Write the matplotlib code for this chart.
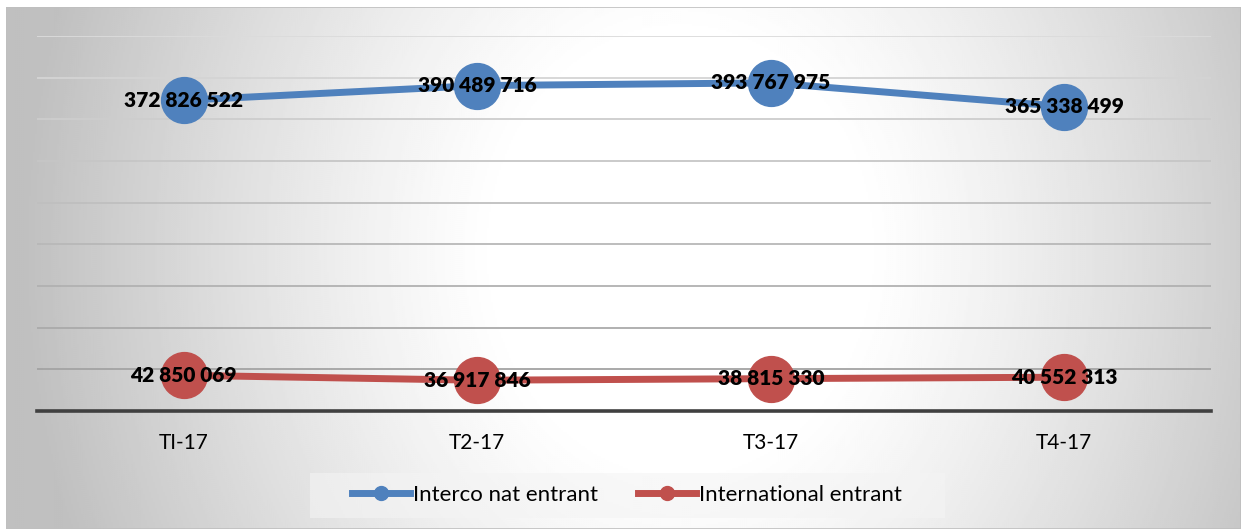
import numpy as np
import matplotlib
matplotlib.use("Agg")
import matplotlib.pyplot as plt
from matplotlib.lines import Line2D
from matplotlib.patches import Rectangle

categories = ["TI-17", "T2-17", "T3-17", "T4-17"]
interco = [372826522, 390489716, 393767975, 365338499]
international = [42850069, 36917846, 38815330, 40552313]
series_names = ["Interco nat entrant", "International entrant"]

W, H = 1241, 529
fig = plt.figure(figsize=(W / 100, H / 100), dpi=100)
fig.patch.set_facecolor("white")

# background gradient panel (pixel coordinates, y from top)
x0, y0 = 6, 7
bg = fig.add_axes([x0 / W, 0, 1 - x0 / W, (H - y0) / H])
bg.set_axis_off()
py, px = np.mgrid[y0:H:2, x0:W:2]
cxp, cyp = 680.0, 250.0
r = np.sqrt(((px - cxp) / 600.0) ** 2 + ((py - cyp) / 700.0) ** 2)
f = np.clip((r - 0.3) / 0.8, 0, 1) ** 1.2
vals = 1.0 - 0.25 * f
bg.imshow(vals, cmap="gray", vmin=0, vmax=1, aspect="auto",
          extent=[x0, W, H, y0], interpolation="bilinear")
bg.set_xlim(x0, W)
bg.set_ylim(H, y0)
bg.add_patch(Rectangle((0, 0), 1, 1, transform=bg.transAxes, fill=False,
                       edgecolor="#bfbfbf", lw=1.2))

ax = fig.add_axes([37 / W, (H - 411) / H, (1211 - 37) / W, (411 - 36) / H])
ax.patch.set_alpha(0)
x = np.arange(len(categories))
ax.set_xlim(-0.5, len(categories) - 0.5)
ax.set_ylim(0, 450e6)

grid_vals = np.arange(50e6, 451e6, 50e6)
for i, gv in enumerate(grid_vals):
    t = (gv - 50e6) / 400e6
    g = 0.64 + 0.22 * t
    ax.axhline(gv, color=(g, g, g), lw=1.3, zorder=1)
ax.axhline(0, color="#404040", lw=2.6, zorder=2, clip_on=False)

for s in ax.spines.values():
    s.set_visible(False)
ax.set_yticks([])
ax.set_xticks(x)
ax.set_xticklabels(categories, fontsize=15, family="Lato")
ax.tick_params(axis="x", length=0, pad=16)

blue = "#4F81BD"
red = "#C0504D"
ax.plot(x, interco, color=blue, lw=5, marker="o", ms=33, zorder=3, solid_capstyle="round")
ax.plot(x, international, color=red, lw=5, marker="o", ms=33, zorder=3, solid_capstyle="round")

def fmt(v):
    return f"{v:,}".replace(",", " ")

for xi, v in zip(x, interco):
    ax.text(xi, v, fmt(v), ha="center", va="center", fontsize=15, fontweight="heavy",
            family="Lato", zorder=5)
for xi, v in zip(x, international):
    ax.text(xi, v, fmt(v), ha="center", va="center", fontsize=15, fontweight="heavy",
            family="Lato", zorder=5)

# legend box
fig.patches.append(Rectangle((310 / W, (H - 518) / H), (945 - 310) / W, 45 / H,
                             transform=fig.transFigure, facecolor="#f4f4f4",
                             edgecolor="none", alpha=0.6, zorder=1))
handles = [Line2D([0], [0], color=blue, lw=5, marker="o", ms=10),
           Line2D([0], [0], color=red, lw=5, marker="o", ms=10)]
leg = fig.legend(handles, series_names, loc="center", bbox_to_anchor=(627 / W, (H - 495) / H),
                 ncol=2, frameon=False, prop={"family": "Lato", "size": 16},
                 handlelength=2.6, handletextpad=0.15, columnspacing=1.8)

fig.savefig("out.png", dpi=100)
